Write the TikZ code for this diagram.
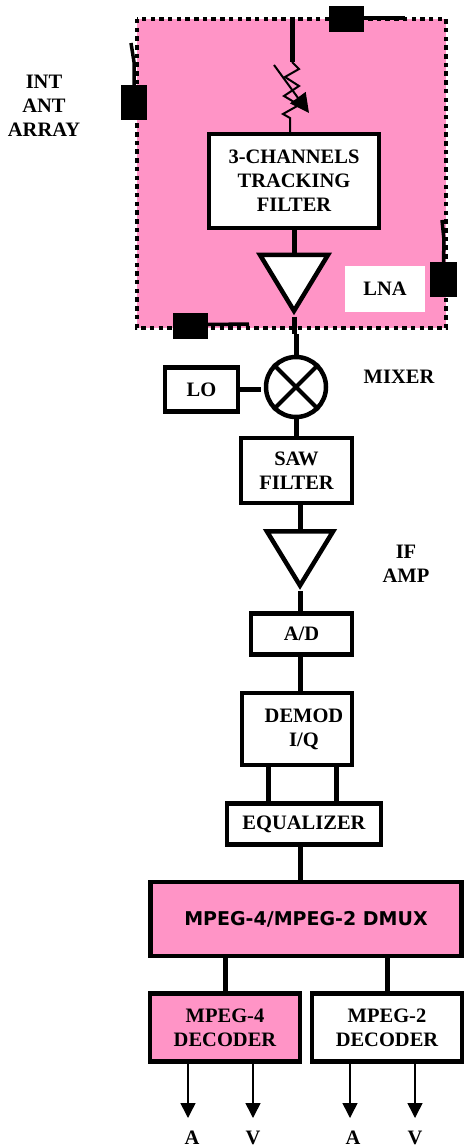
\documentclass[tikz,border=0pt]{standalone}
\usepackage{fontspec}
\setmainfont{Liberation Serif}
\newfontfamily\dmuxfont{DejaVu Sans}
\usetikzlibrary{arrows.meta,shapes.geometric}

\definecolor{pinkfill}{RGB}{255,148,198}

\begin{document}
\begin{tikzpicture}
[
	x=1pt,y=-1pt,
	blockbox/.style={rectangle,draw,line width=4.5pt,fill=white,inner sep=0pt,align=center,font=\fontsize{20.5}{24}\selectfont\bfseries},
	ampbox/.style={isosceles triangle,isosceles triangle stretches,shape border rotate=270,draw,line width=4.5pt,fill=white,inner sep=0pt,minimum width=68pt,minimum height=56pt},
	mixbox/.style={circle,draw,line width=4.5pt,fill=white,inner sep=0pt,minimum size=60pt},
	plugbox/.style={rectangle,fill=black,inner sep=0pt},
	textlabel/.style={inner sep=0pt,align=center,font=\fontsize{20.5}{24}\selectfont\bfseries},
	thickline/.style={line width=5pt},
	tailline/.style={line width=3.5pt},
	outarrow/.style={line width=1.5pt,-{Triangle[length=15pt,width=15pt]}}
]

	\useasboundingbox (0,0) rectangle (463,1147);

	% array frame
	\fill[pinkfill] (137,19) rectangle (446,328);
	\draw[line width=4.5pt,dash pattern=on 4.5pt off 4.2pt] (137,19) rectangle (446,328);

	% array plugs
	\node[plugbox,minimum width=35pt,minimum height=26pt] at (346.5,19) (plugtop) {};
	\node[plugbox,minimum width=26pt,minimum height=35pt] at (134,102.5) (plugleft) {};
	\node[plugbox,minimum width=27pt,minimum height=35pt] at (443.5,279.5) (plugright) {};
	\node[plugbox,minimum width=35pt,minimum height=26pt] at (190.5,325.5) (plugbottom) {};
	\coordinate (tailtop) at (405,18);
	\coordinate (tailleft) at (131,43);
	\coordinate (tailright) at (442,220);
	\coordinate (tailbottom) at (249,324);
	\draw[tailline] (plugtop.east) ++(0,-1) -- (tailtop);
	\draw[tailline] (plugleft.north) -- (134,62) -- (tailleft);
	\draw[tailline] (plugright.north) -- (444,240) -- (tailright);
	\draw[tailline] (plugbottom.east) ++(0,-1) -- (tailbottom);

	% blocks inside the frame
	\node[blockbox,minimum width=170pt,minimum height=94pt] at (294,181) (tracking) {3-CHANNELS\\TRACKING\\FILTER};
	\node[ampbox] at (294,274) (lna) {};
	\node[rectangle,fill=white,inner sep=0pt,minimum width=80pt,minimum height=45pt,font=\fontsize{20.5}{24}\selectfont\bfseries] at (385,289) (lnatext) {LNA};
	\node[textlabel] at (44,106) (arraytext) {INT\\ANT\\ARRAY};

	% variable resistor
	\coordinate (feedtop) at (292,17);
	\coordinate (feedend) at (292,62);
	\draw[thickline] (feedtop) -- (feedend);
	\draw[line width=2pt] (feedend) -- (299,69) -- (285,77) -- (299,86) -- (284,96) -- (299,105) -- (283,114) -- (290,118) -- (290,132);
	\coordinate (wiperstart) at (274,65);
	\coordinate (wiperend) at (309,113);
	\draw[line width=2pt,-{Triangle[length=19pt,width=19pt]}] (wiperstart) -- (wiperend);

	% receive chain
	\node[mixbox] at (296,387) (mixer) {};
	\draw[line width=4pt] (mixer.north west) -- (mixer.south east);
	\draw[line width=4pt] (mixer.north east) -- (mixer.south west);
	\node[blockbox,minimum width=73pt,minimum height=44pt] at (201.5,389.5) (lo) {LO};
	\node[blockbox,minimum width=111pt,minimum height=65pt] at (296.5,470.5) (saw) {SAW\\FILTER};
	\node[ampbox,minimum width=66pt,minimum height=54pt] at (300,550) (ifamp) {};
	\node[blockbox,minimum width=101pt,minimum height=41pt] at (301.5,634) (ad) {A/D};
	\node[blockbox,minimum width=110pt,minimum height=72pt] at (297,729) (demod) {\hspace*{14pt}DEMOD\\\hspace*{14pt}I/Q};
	\node[blockbox,minimum width=154pt,minimum height=41pt] at (304,824) (equalizer) {EQUALIZER};

	% labels
	\node[textlabel] at (399,377) (mixertext) {MIXER};
	\node[textlabel] at (406,564) (iftext) {IF\\AMP};

	% decoders
	\node[blockbox,fill=pinkfill,minimum width=311pt,minimum height=74pt,font=\dmuxfont\fontsize{19}{23}\selectfont\bfseries] at (306,919) (dmux) {\raisebox{-7pt}{MPEG-4/MPEG-2 DMUX}};
	\node[blockbox,fill=pinkfill,minimum width=150pt,minimum height=68pt] at (225,1027.5) (mpegfour) {MPEG-4\\DECODER};
	\node[blockbox,minimum width=150pt,minimum height=68pt] at (387,1027.5) (mpegtwo) {MPEG-2\\DECODER};

	% links
	\coordinate (jog) at (296,334);
	\draw[thickline] (tracking.south) -- (lna.lower side);
	\draw[thickline] (lna.apex) -- (lna.apex |- jog);
	\draw[thickline] (jog) -- (mixer.north);
	\draw[thickline,shorten >=3pt] (lo.east) -- (mixer.west |- lo.east);
	\draw[thickline] (mixer.south) -- (saw.north -| mixer.south);
	\draw[thickline] (saw.south -| ifamp.lower side) -- (ifamp.lower side);
	\draw[thickline] (ifamp.apex) -- (ad.north -| ifamp.apex);
	\draw[thickline] (ad.south -| ifamp.apex) -- (demod.north -| ifamp.apex);
	\coordinate (iqleft) at (268,780);
	\coordinate (iqright) at (336,780);
	\draw[thickline] (demod.south -| iqleft) -- (equalizer.north -| iqleft);
	\draw[thickline] (demod.south -| iqright) -- (equalizer.north -| iqright);
	\draw[thickline] (equalizer.south -| ifamp.apex) -- (dmux.north -| ifamp.apex);
	\draw[thickline] (dmux.south -| mpegfour.north) -- (mpegfour.north);
	\draw[thickline] (dmux.south -| mpegtwo.north) -- (mpegtwo.north);

	% outputs
	\coordinate (outa) at (188,1118);
	\coordinate (outb) at (253,1118);
	\coordinate (outc) at (350,1118);
	\coordinate (outd) at (415,1118);
	\draw[outarrow] (mpegfour.south -| outa) -- (outa);
	\draw[outarrow] (mpegfour.south -| outb) -- (outb);
	\draw[outarrow] (mpegtwo.south -| outc) -- (outc);
	\draw[outarrow] (mpegtwo.south -| outd) -- (outd);
	\node[textlabel] at (192,1138) (texta) {A};
	\node[textlabel] at (253,1138) (textb) {V};
	\node[textlabel] at (353,1138) (textc) {A};
	\node[textlabel] at (415,1138) (textd) {V};

\end{tikzpicture}
\end{document}
